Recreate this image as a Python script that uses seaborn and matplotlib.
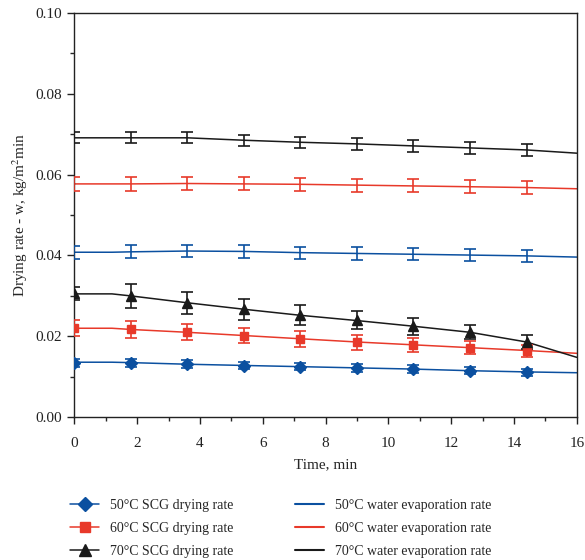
import matplotlib
matplotlib.use('Agg')
import matplotlib.pyplot as plt
import matplotlib.ticker as mticker
from matplotlib.lines import Line2D
import pandas as pd
import seaborn as sns

# measured points (time, min)
t = [0, 1.8, 3.6, 5.4, 7.2, 9.0, 10.8, 12.6, 14.4]
scg50 = [0.0135, 0.0135, 0.0131, 0.0127, 0.0125, 0.0122, 0.0119, 0.0115, 0.0111]
scg60 = [0.0220, 0.0217, 0.0210, 0.0202, 0.0193, 0.0185, 0.0178, 0.0172, 0.0164]
scg70 = [0.0306, 0.0300, 0.0283, 0.0267, 0.0252, 0.0240, 0.0225, 0.0211, 0.0186]
scg50_err = [0.0010, 0.0010, 0.0010, 0.0009, 0.0009, 0.0009, 0.0009, 0.0009, 0.0009]
scg60_err = [0.0020, 0.0021, 0.0020, 0.0019, 0.0019, 0.0018, 0.0017, 0.0016, 0.0015]
scg70_err = [0.0016, 0.0030, 0.0027, 0.0026, 0.0025, 0.0023, 0.0021, 0.0018, 0.0017]
water50 = [0.0408, 0.0409, 0.0411, 0.0410, 0.0407, 0.0405, 0.0403, 0.0401, 0.0399]
water60 = [0.0577, 0.0577, 0.0578, 0.0577, 0.0576, 0.0574, 0.0572, 0.0570, 0.0568]
water70 = [0.0691, 0.0691, 0.0691, 0.0685, 0.0680, 0.0676, 0.0671, 0.0666, 0.0661]
water50_err = [0.0016, 0.0016, 0.0016, 0.0016, 0.0015, 0.0015, 0.0015, 0.0015, 0.0015]
water60_err = [0.0017, 0.0017, 0.0017, 0.0016, 0.0016, 0.0016, 0.0016, 0.0016, 0.0016]
water70_err = [0.0014, 0.0014, 0.0014, 0.0014, 0.0014, 0.0014, 0.0014, 0.0014, 0.0014]

# fitted curves
t_fit = [0, 1.2, 1.8, 3.6, 5.4, 7.2, 9.0, 10.8, 12.6, 14.4, 16]
scg50_fit = [0.0136, 0.0136, 0.0135, 0.0131, 0.0128, 0.0125, 0.0122, 0.0119, 0.0115, 0.0112, 0.0110]
scg60_fit = [0.0220, 0.0220, 0.0217, 0.0210, 0.0202, 0.0194, 0.0186, 0.0179, 0.0172, 0.0165, 0.0158]
scg70_fit = [0.0305, 0.0305, 0.0300, 0.0283, 0.0267, 0.0252, 0.0239, 0.0225, 0.0210, 0.0186, 0.0148]
water50_fit = [0.0408, 0.0408, 0.0409, 0.0411, 0.0410, 0.0407, 0.0405, 0.0403, 0.0401, 0.0399, 0.0396]
water60_fit = [0.0577, 0.0577, 0.0577, 0.0578, 0.0577, 0.0576, 0.0574, 0.0572, 0.0570, 0.0568, 0.0565]
water70_fit = [0.0691, 0.0691, 0.0691, 0.0691, 0.0685, 0.0680, 0.0676, 0.0671, 0.0666, 0.0661, 0.0653]

temps = ['50', '60', '70']
colors = ['#0b50a0', '#e8392a', '#1a1a1a']
markers = ['D', 's', '^']
msizes = [6.5, 6, 7.5]

sns.set_theme(style='ticks')
plt.rcParams['font.family'] = ['Liberation Serif', 'DejaVu Serif']
plt.rcParams['mathtext.fontset'] = 'stix'

fig, ax = plt.subplots(figsize=(5.85, 5.6), dpi=100)
fig.subplots_adjust(left=0.127, right=0.986, top=0.977, bottom=0.255)

scg = [scg50, scg60, scg70]
scg_err = [scg50_err, scg60_err, scg70_err]
scg_fit = [scg50_fit, scg60_fit, scg70_fit]
water = [water50, water60, water70]
water_err = [water50_err, water60_err, water70_err]
water_fit = [water50_fit, water60_fit, water70_fit]

for i in range(3):
    c = colors[i]
    fw = pd.DataFrame({'t': t_fit, 'w': water_fit[i]})
    sns.lineplot(data=fw, x='t', y='w', color=c, lw=1.1, ax=ax)
    ax.errorbar(t, water[i], yerr=water_err[i], fmt='none', ecolor=c,
                elinewidth=1.2, capsize=4, capthick=1.2, zorder=3)
    fs = pd.DataFrame({'t': t_fit, 'w': scg_fit[i]})
    sns.lineplot(data=fs, x='t', y='w', color=c, lw=1.1, ax=ax)
    ax.errorbar(t, scg[i], yerr=scg_err[i], fmt=markers[i], color=c, ms=msizes[i],
                ecolor=c, elinewidth=1.2, capsize=4, capthick=1.2, zorder=4)

ax.set_xlim(0, 16)
ax.set_ylim(0, 0.10)
ax.xaxis.set_major_locator(mticker.MultipleLocator(2))
ax.xaxis.set_minor_locator(mticker.MultipleLocator(1))
ax.yaxis.set_major_locator(mticker.MultipleLocator(0.02))
ax.yaxis.set_minor_locator(mticker.MultipleLocator(0.01))
ax.yaxis.set_major_formatter(mticker.FormatStrFormatter('%.2f'))
ax.tick_params(which='major', direction='out', length=5, width=1, labelsize=11, colors='#222222')
ax.tick_params(which='minor', direction='out', length=3, width=1)
ax.tick_params(axis='x', which='major', pad=9)
for s in ax.spines.values():
    s.set_linewidth(1)
    s.set_color('#222222')
ax.set_xlabel('Time, min', fontsize=11, labelpad=6)
ax.set_ylabel('Drying rate - w, kg/m$^2$min', fontsize=11)

handles = []
lms = [7.5, 7, 8.5]
for i in range(3):
    handles.append(Line2D([0], [0], color=colors[i], marker=markers[i], ms=lms[i], lw=1.1,
                          label=temps[i] + '°C SCG drying rate'))
for i in range(3):
    handles.append(Line2D([0], [0], color=colors[i], lw=1.5,
                          label=temps[i] + '°C water evaporation rate'))
fig.legend(handles=handles, ncol=2, loc='lower center', bbox_to_anchor=(0.48, -0.018),
           frameon=False, fontsize=10, handlelength=2.1, columnspacing=4.4, labelspacing=0.7)

fig.savefig('out.png', dpi=100)
